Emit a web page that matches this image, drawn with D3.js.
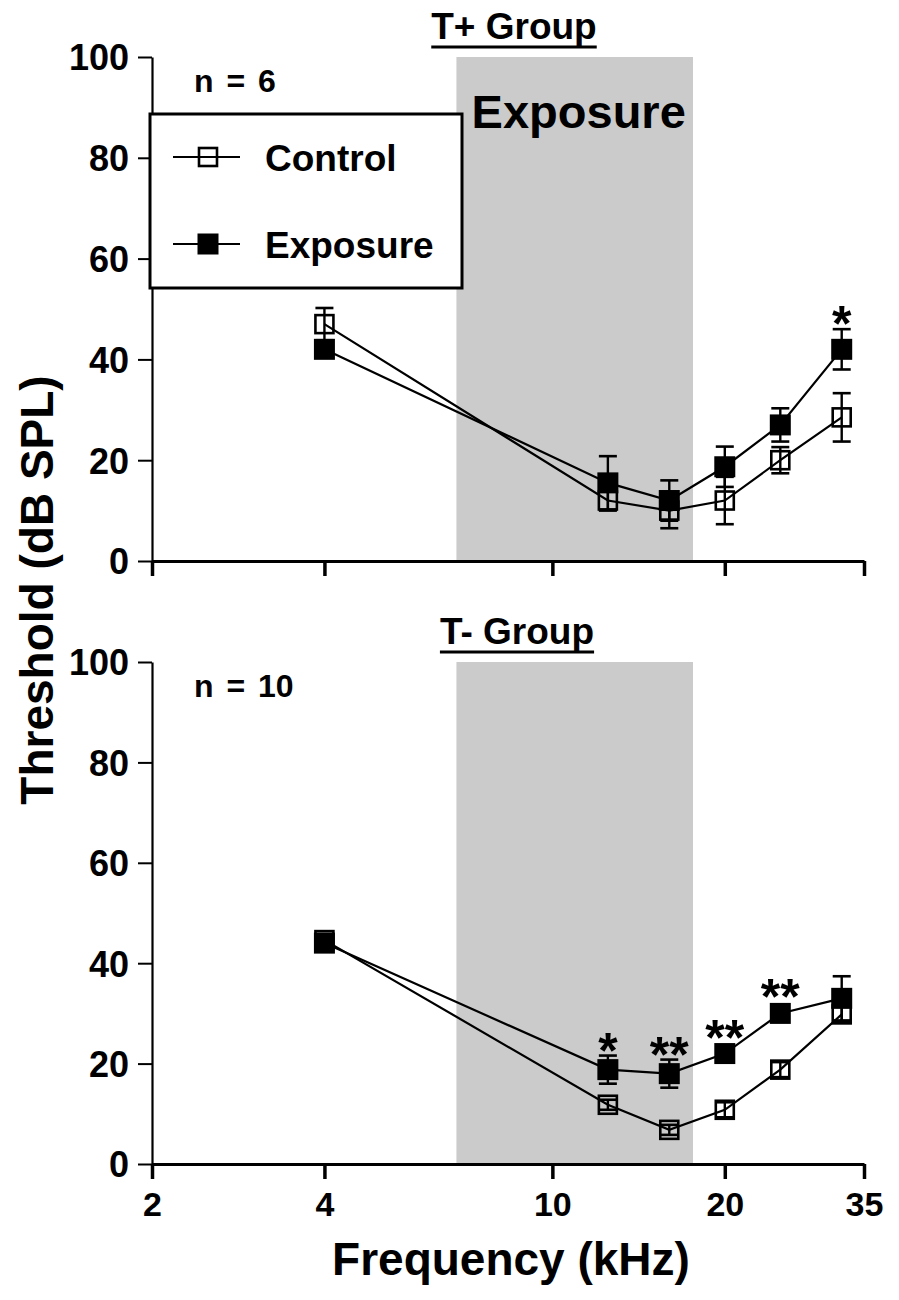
<!DOCTYPE html>
<html>
<head>
<meta charset="utf-8">
<script src="https://cdn.jsdelivr.net/npm/d3@7"></script>
<style>
  body { margin: 0; background: #fff; }
  text { font-family: "Liberation Sans", Arial, sans-serif; font-weight: bold; fill: #000; }
</style>
</head>
<body>
<script>

// _____________ data
var freqs = [4, 12.5, 16, 20, 25, 32]          // kHz
var xTicks = [2, 4, 10, 20, 35]
var yTicks = [0, 20, 40, 60, 80, 100]
var exposureBand = [6.8, 17.6]                 // kHz, grey band

var tPlusControl     = [47, 12, 10, 12, 20, 28.5]
var tPlusControlSem  = [3.2, 2, 3.5, 4.7, 2.6, 4.8]
var tPlusExposure    = [42, 15.5, 12, 18.7, 27, 42]
var tPlusExposureSem = [1, 5.3, 4, 4, 3.3, 4]
var tPlusStars       = ['', '', '', '', '', '*']

var tMinusControl     = [44.6, 11.8, 6.8, 10.8, 18.8, 29.8]
var tMinusControlSem  = [1.2, 1, 1, 1.5, 1.5, 1.5]
var tMinusExposure    = [44, 18.8, 18, 22, 30, 33]
var tMinusExposureSem = [1.5, 2.8, 2.8, 1, 1, 4.4]
var tMinusStars       = ['', '*', '**', '**', '**', '']

var panels = [
  { title: 'T+ Group', titleX: 514, n: 'n = 6', top: 57, bottom: 561, tickLabels: false, legend: true,
    control: tPlusControl, controlSem: tPlusControlSem,
    exposure: tPlusExposure, exposureSem: tPlusExposureSem, stars: tPlusStars },
  { title: 'T- Group', titleX: 517, n: 'n = 10', top: 662, bottom: 1164, tickLabels: true, legend: false,
    control: tMinusControl, controlSem: tMinusControlSem,
    exposure: tMinusExposure, exposureSem: tMinusExposureSem, stars: tMinusStars }
]

// _____________ svg
var width = 899, height = 1300
var svg = d3.select('body').append('svg')
  .attr('width', width)
  .attr('height', height)

var x = d3.scaleLog()
  .domain([2, 35])
  .range([152, 864])

function square(g, cx, cy, size, filled) {
  g.append('rect')
    .attr('x', cx - size / 2)
    .attr('y', cy - size / 2)
    .attr('width', size)
    .attr('height', size)
    .attr('fill', filled ? '#000' : 'none')
    .attr('stroke', '#000')
    .attr('stroke-width', filled ? 0 : 2.6)
}

panels.forEach(function (p) {
  var y = d3.scaleLinear().domain([0, 100]).range([p.bottom, p.top])
  var g = svg.append('g')

  // grey exposure band
  g.append('rect')
    .attr('x', x(exposureBand[0]))
    .attr('y', y(100))
    .attr('width', x(exposureBand[1]) - x(exposureBand[0]))
    .attr('height', y(0) - y(100))
    .attr('fill', '#cbcbcb')

  // y axis
  var yAxis = g.append('g')
    .attr('transform', 'translate(' + x(2) + ',0)')
    .call(d3.axisLeft(y).tickValues(yTicks).tickSize(14).tickSizeOuter(0).tickPadding(9))
  yAxis.select('.domain').attr('stroke-width', 2.2)
  yAxis.selectAll('.tick line').attr('stroke-width', 2)
  yAxis.selectAll('.tick text')
    .style('font-size', '36px')
    .style('font-family', '"Liberation Sans", Arial, sans-serif')
    .style('font-weight', 'bold')
    .attr('dy', '0.36em')

  // x axis
  var xAxis = g.append('g')
    .attr('transform', 'translate(0,' + y(0) + ')')
    .call(d3.axisBottom(x).tickValues(xTicks).tickSize(15).tickSizeOuter(0).tickPadding(13)
      .tickFormat(function (d) { return p.tickLabels ? d : '' }))
  xAxis.select('.domain').attr('stroke-width', 3)
  xAxis.selectAll('.tick line').attr('stroke-width', 3.5)
  xAxis.selectAll('.tick text')
    .style('font-size', '34px')
    .style('font-family', '"Liberation Sans", Arial, sans-serif')
    .style('font-weight', 'bold')

  // title, underlined
  var title = g.append('text')
    .attr('x', p.titleX)
    .attr('y', p.top - 18)
    .attr('text-anchor', 'middle')
    .style('font-size', '37px')
    .text(p.title)
  var tw = title.node().getComputedTextLength()
  g.append('line')
    .attr('x1', p.titleX - tw / 2).attr('x2', p.titleX + tw / 2)
    .attr('y1', p.top - 10).attr('y2', p.top - 10)
    .attr('stroke', '#000').attr('stroke-width', 3)

  g.append('text')
    .attr('x', 194)
    .attr('y', p.top + 35)
    .style('font-size', '32px')
    .style('word-spacing', '4px')
    .text(p.n)

  // lines
  var line = d3.line()
    .x(function (d, i) { return x(freqs[i]) })
    .y(function (d) { return y(d) })

  ;[p.control, p.exposure].forEach(function (vals) {
    g.append('path')
      .datum(vals)
      .attr('d', line)
      .attr('fill', 'none')
      .attr('stroke', '#000')
      .attr('stroke-width', 2.2)
  })

  // error bars
  var series = [
    { vals: p.control, sem: p.controlSem, filled: false, size: 18 },
    { vals: p.exposure, sem: p.exposureSem, filled: true, size: 21 }
  ]
  series.forEach(function (s) {
    s.vals.forEach(function (v, i) {
      var cx = x(freqs[i])
      var y1 = y(v + s.sem[i]), y2 = y(v - s.sem[i])
      g.append('line')
        .attr('x1', cx).attr('x2', cx).attr('y1', y1).attr('y2', y2)
        .attr('stroke', '#000').attr('stroke-width', 2.4)
      ;[y1, y2].forEach(function (yy) {
        g.append('line')
          .attr('x1', cx - 9).attr('x2', cx + 9).attr('y1', yy).attr('y2', yy)
          .attr('stroke', '#000').attr('stroke-width', 2.6)
      })
    })
  })

  // markers
  series.forEach(function (s) {
    s.vals.forEach(function (v, i) {
      square(g, x(freqs[i]), y(v), s.size, s.filled)
    })
  })

  // significance stars above exposure
  p.stars.forEach(function (st, i) {
    if (!st) return
    var v = p.exposure[i]
    var top = Math.min(y(v + p.exposureSem[i]), y(v) - 11)
    g.append('text')
      .attr('x', x(freqs[i]))
      .attr('y', top + 12)
      .attr('text-anchor', 'middle')
      .style('font-size', '50px')
      .text(st)
  })

  if (p.legend) {
    g.append('text')
      .attr('x', (x(exposureBand[0]) + x(exposureBand[1])) / 2)
      .attr('dx', 4)
      .attr('y', 128)
      .attr('text-anchor', 'middle')
      .style('font-size', '47px')
      .text('Exposure')

    var lg = svg.append('g')
    lg.append('rect')
      .attr('x', 150).attr('y', 114)
      .attr('width', 312).attr('height', 174)
      .attr('fill', '#fff')
      .attr('stroke', '#000').attr('stroke-width', 3)
    var entries = [
      { label: 'Control', filled: false, size: 18, cy: 157 },
      { label: 'Exposure', filled: true, size: 21, cy: 244 }
    ]
    entries.forEach(function (e) {
      lg.append('line')
        .attr('x1', 173).attr('x2', 240).attr('y1', e.cy).attr('y2', e.cy)
        .attr('stroke', '#000').attr('stroke-width', 2)
      square(lg, 208, e.cy, e.size, e.filled)
      lg.append('text')
        .attr('x', 265)
        .attr('y', e.cy + 14)
        .style('font-size', '37px')
        .text(e.label)
    })
  }
})

// _____________ axis labels
svg.append('text')
  .attr('transform', 'translate(53,590) rotate(-90)')
  .attr('text-anchor', 'middle')
  .style('font-size', '46px')
  .text('Threshold (dB SPL)')

svg.append('text')
  .attr('x', 511)
  .attr('y', 1275)
  .attr('text-anchor', 'middle')
  .style('font-size', '46px')
  .text('Frequency (kHz)')

</script>
</body>
</html>
